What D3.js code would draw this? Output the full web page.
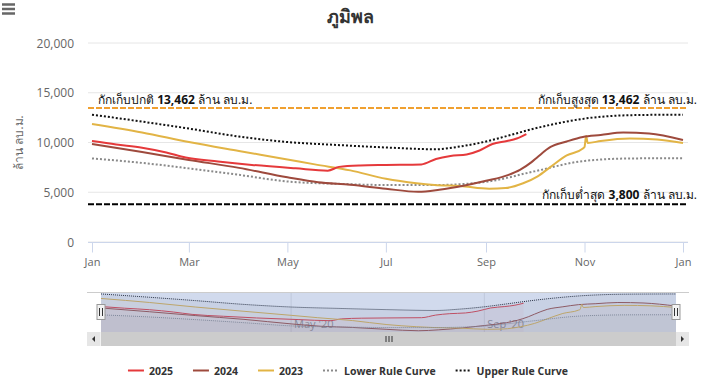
<!DOCTYPE html>
<html>
<head>
<meta charset="utf-8">
<script src="https://cdn.jsdelivr.net/npm/d3@7"></script>
<style>
  body { margin: 0; background: #fff; }
  svg text { font-family: "Open Sans", "Noto Sans", sans-serif; }
</style>
</head>
<body>
<div id="chart"></div>
<script>
'use strict';

// day of year on the 2020 axis (0 = Jan 1), values in ล้าน ลบ.ม.
const days2025 = [0, 15, 31, 46, 58, 78, 99, 126, 146, 153, 166, 182, 204, 213, 222, 232, 240, 248, 257, 263, 269];
const values2025 = [10150, 9800, 9480, 9000, 8500, 8100, 7750, 7400, 7170, 7550, 7700, 7750, 7800, 8350, 8650, 8800, 9200, 9850, 10150, 10400, 10850];

const days2024 = [0, 31, 60, 91, 121, 140, 160, 182, 202, 215, 230, 244, 258, 265, 272, 276, 284, 294, 304, 315, 329, 345, 366];
const values2024 = [9850, 9050, 8250, 7450, 6500, 6000, 5750, 5350, 5050, 5250, 5650, 6150, 6750, 7250, 8000, 8550, 9550, 10100, 10550, 10750, 11000, 10900, 10250];

const days2023 = [0, 31, 60, 91, 121, 138, 160, 182, 201, 212, 228, 246, 256, 267, 276, 284, 294, 304, 305, 306, 307, 315, 333, 350, 366];
const values2023 = [11850, 11000, 10050, 9150, 8300, 7800, 7200, 6350, 5900, 5730, 5620, 5350, 5420, 5900, 6600, 7550, 8700, 9400, 9550, 10650, 9950, 10150, 10400, 10300, 9950];

const daysLower = [0, 31, 60, 91, 121, 152, 182, 213, 244, 274, 305, 335, 366];
const valuesLower = [8400, 7950, 7400, 6750, 6080, 5850, 5730, 5730, 6050, 7100, 8150, 8400, 8420];

const daysUpper = [0, 31, 60, 91, 121, 152, 182, 213, 228, 244, 258, 274, 289, 305, 320, 335, 366];
const valuesUpper = [12800, 12100, 11400, 10600, 10050, 9750, 9500, 9320, 9600, 10100, 10700, 11400, 11950, 12400, 12650, 12750, 12800];

const seriesNames = ["2025", "2024", "2023", "Lower Rule Curve", "Upper Rule Curve"];
const yTicks = [0, 5000, 10000, 15000, 20000];
const navTickLabels = ["May '20", "Sep '20"];

const normalLevel = 13462;
const maxLevel = 13462;
const minLevel = 3800;

const width = 701, height = 386;
const plotLeft = 88, plotRight = 688, plotTop = 43, plotBottom = 242;

const start = new Date(Date.UTC(2020, 0, 1));
const end = new Date(Date.UTC(2021, 0, 1));
const toDate = (d) => d3.utcDay.offset(start, d);

const series = [
    { name: seriesNames[0], days: days2025, values: values2025, color: "#e5393b", dash: null },
    { name: seriesNames[1], days: days2024, values: values2024, color: "#9e4a3d", dash: null },
    { name: seriesNames[2], days: days2023, values: values2023, color: "#e2b445", dash: null },
    { name: seriesNames[3], days: daysLower, values: valuesLower, color: "#8a8a8a", dash: "2,2" },
    { name: seriesNames[4], days: daysUpper, values: valuesUpper, color: "#111111", dash: "2,2" }
];
series.forEach(s => { s.points = s.days.map((d, i) => [toDate(d), s.values[i]]); });

const svg = d3.select("#chart").append("svg")
    .attr("width", width)
    .attr("height", height);

// menu button
[4.5, 9, 13.5].forEach(y => {
    svg.append("line")
        .attr("x1", 2).attr("x2", 15).attr("y1", y).attr("y2", y)
        .attr("stroke", "#666").attr("stroke-width", 2.5);
});

// title
svg.append("text")
    .attr("x", 350.5).attr("y", 23)
    .attr("text-anchor", "middle")
    .style("font-size", "18px").style("font-weight", "bold")
    .attr("fill", "#333")
    .text("ภูมิพล");

const x = d3.scaleUtc().domain([start, end]).range([92, 683]);
const y = d3.scaleLinear().domain([0, 20000]).range([plotBottom, plotTop]);

// grid + y labels
yTicks.forEach(t => {
    svg.append("line")
        .attr("x1", plotLeft).attr("x2", plotRight)
        .attr("y1", y(t)).attr("y2", y(t))
        .attr("stroke", "#e6e6e6");
    svg.append("text")
        .attr("x", 74).attr("y", y(t) + 4.5)
        .attr("text-anchor", "end")
        .style("font-size", "12px")
        .attr("fill", "#666")
        .text(d3.format(",")(t));
});

// y axis title
svg.append("text")
    .attr("transform", "translate(23," + ((plotTop + plotBottom) / 2) + ") rotate(-90)")
    .attr("text-anchor", "middle")
    .style("font-size", "12px")
    .attr("fill", "#666")
    .text("ล้าน ลบ.ม.");

// x axis
svg.append("line")
    .attr("x1", plotLeft).attr("x2", plotRight)
    .attr("y1", plotBottom + 0.5).attr("y2", plotBottom + 0.5)
    .attr("stroke", "#ccd6eb");

const xAxis = svg.append("g")
    .attr("transform", "translate(0," + (plotBottom + 0.5) + ")")
    .call(d3.axisBottom(x)
        .tickValues(d3.utcMonth.every(2).range(start, d3.utcDay.offset(end, 1)))
        .tickFormat(d3.utcFormat("%b"))
        .tickSize(10)
        .tickPadding(6));
xAxis.select(".domain").remove();
xAxis.selectAll(".tick line").attr("stroke", "#ccd6eb");
xAxis.selectAll(".tick text")
    .attr("fill", "#666")
    .style("font-size", "11px")
    .style("font-family", "'Open Sans', sans-serif");

// plot lines
const plotLine = (value, color) => {
    svg.append("line")
        .attr("x1", plotLeft).attr("x2", plotRight)
        .attr("y1", y(value)).attr("y2", y(value))
        .attr("stroke", color)
        .attr("stroke-width", 2)
        .attr("stroke-dasharray", "6,2");
};
plotLine(normalLevel, "#f0a030");
plotLine(minLevel, "#000");

const plotLabel = (xPos, yPos, anchor, pre, num) => {
    const t = svg.append("text")
        .attr("x", xPos).attr("y", yPos)
        .attr("text-anchor", anchor)
        .style("font-size", "12px")
        .attr("fill", "#111");
    t.append("tspan").text(pre + " ");
    t.append("tspan").style("font-weight", "bold").text(d3.format(",")(num));
    t.append("tspan").text(" ล้าน ลบ.ม.");
};
plotLabel(98, y(normalLevel) - 4, "start", "กักเก็บปกติ", normalLevel);
plotLabel(697, y(maxLevel) - 4, "end", "กักเก็บสูงสุด", maxLevel);
plotLabel(697, y(minLevel) - 5, "end", "กักเก็บต่ำสุด", minLevel);

// series
svg.append("clipPath").attr("id", "plotClip")
    .append("rect")
    .attr("x", plotLeft).attr("y", plotTop - 5)
    .attr("width", plotRight - plotLeft).attr("height", plotBottom - plotTop + 5);

const line = d3.line()
    .x(d => x(d[0]))
    .y(d => y(d[1]))
    .curve(d3.curveMonotoneX);

const seriesGroup = svg.append("g").attr("clip-path", "url(#plotClip)");
series.slice().reverse().forEach(s => {
    seriesGroup.append("path")
        .datum(s.points)
        .attr("d", line)
        .attr("fill", "none")
        .attr("stroke", s.color)
        .attr("stroke-width", 2)
        .attr("stroke-dasharray", s.dash)
        .attr("stroke-linejoin", "round");
});

// navigator
const navTop = 292, navBottom = 332, navLeft = 101, navRight = 676;
const navX = d3.scaleUtc().domain([start, end]).range([navLeft, navRight]);
const navY = d3.scaleLinear().domain([5000, 13000]).range([navBottom - 1, navTop + 1]);

const navGroup = svg.append("g");
[d3.utcMonth.offset(start, 4), d3.utcMonth.offset(start, 8)].forEach((d, i) => {
    navGroup.append("line")
        .attr("x1", navX(d)).attr("x2", navX(d))
        .attr("y1", navTop).attr("y2", navBottom)
        .attr("stroke", "#e6e6e6");
    navGroup.append("text")
        .attr("x", navX(d) + 3).attr("y", navBottom - 4)
        .style("font-size", "11px")
        .attr("fill", "#999")
        .text(navTickLabels[i]);
});

const navArea = d3.area()
    .x(d => navX(d[0]))
    .y0(navBottom)
    .y1(d => navY(d[1]))
    .curve(d3.curveMonotoneX);
const navLine = d3.line()
    .x(d => navX(d[0]))
    .y(d => navY(d[1]))
    .curve(d3.curveMonotoneX);

series.forEach(s => {
    navGroup.append("path")
        .datum(s.points)
        .attr("d", navArea)
        .attr("fill", s.color)
        .attr("fill-opacity", 0.05);
});
series.forEach(s => {
    navGroup.append("path")
        .datum(s.points)
        .attr("d", navLine)
        .attr("fill", "none")
        .attr("stroke", s.color)
        .attr("stroke-width", 1)
        .attr("stroke-dasharray", s.dash ? "1,1" : null);
});

navGroup.append("rect")
    .attr("x", navLeft).attr("y", navTop)
    .attr("width", navRight - navLeft).attr("height", navBottom - navTop)
    .attr("fill", "rgba(102,133,194,0.3)");

navGroup.append("line")
    .attr("x1", 87).attr("x2", 689)
    .attr("y1", navTop + 0.5).attr("y2", navTop + 0.5)
    .attr("stroke", "#cccccc");

[navLeft, navRight].forEach(hx => {
    navGroup.append("rect")
        .attr("x", hx - 4).attr("y", 304.5)
        .attr("width", 8).attr("height", 15)
        .attr("fill", "#f2f2f2").attr("stroke", "#999");
    [-1.5, 1.5].forEach(o => {
        navGroup.append("line")
            .attr("x1", hx + o).attr("x2", hx + o)
            .attr("y1", 308).attr("y2", 316)
            .attr("stroke", "#333");
    });
});

// scrollbar
const sbTop = 332, sbHeight = 14;
svg.append("rect")
    .attr("x", 87).attr("y", sbTop).attr("width", 602).attr("height", sbHeight)
    .attr("fill", "#f2f2f2");
svg.append("rect")
    .attr("x", navLeft).attr("y", sbTop).attr("width", navRight - navLeft).attr("height", sbHeight)
    .attr("fill", "#cccccc");
[[87, -1], [navRight, 1]].forEach(([bx, dir]) => {
    svg.append("rect")
        .attr("x", bx).attr("y", sbTop).attr("width", 13).attr("height", sbHeight)
        .attr("fill", "#e6e6e6");
    const cx = bx + 6.5, cy = sbTop + 7;
    svg.append("path")
        .attr("d", "M" + (cx - 1.5 * dir) + "," + (cy - 3) + "L" + (cx + 1.5 * dir) + "," + cy + "L" + (cx - 1.5 * dir) + "," + (cy + 3) + "Z")
        .attr("fill", "#333");
});
const gripX = (navLeft + navRight) / 2;
[-3, 0, 3].forEach(o => {
    svg.append("line")
        .attr("x1", gripX + o + 0.5).attr("x2", gripX + o + 0.5)
        .attr("y1", sbTop + 4).attr("y2", sbTop + 10)
        .attr("stroke", "#333");
});

// legend
const legend = svg.append("g");
let lx = 0;
series.forEach(s => {
    const item = legend.append("g").attr("transform", "translate(" + lx + ",0)");
    item.append("line")
        .attr("x1", 0).attr("x2", 16).attr("y1", 0).attr("y2", 0)
        .attr("stroke", s.color).attr("stroke-width", 2)
        .attr("stroke-dasharray", s.dash);
    const t = item.append("text")
        .attr("x", 21).attr("y", 4)
        .style("font-size", "10.5px").style("font-weight", "bold")
        .attr("fill", "#333")
        .text(s.name);
    lx += 21 + t.node().getComputedTextLength() + 20;
});
const legendWidth = lx - 20;
legend.attr("transform", "translate(" + (348 - legendWidth / 2) + ",370.5)");
</script>
</body>
</html>
